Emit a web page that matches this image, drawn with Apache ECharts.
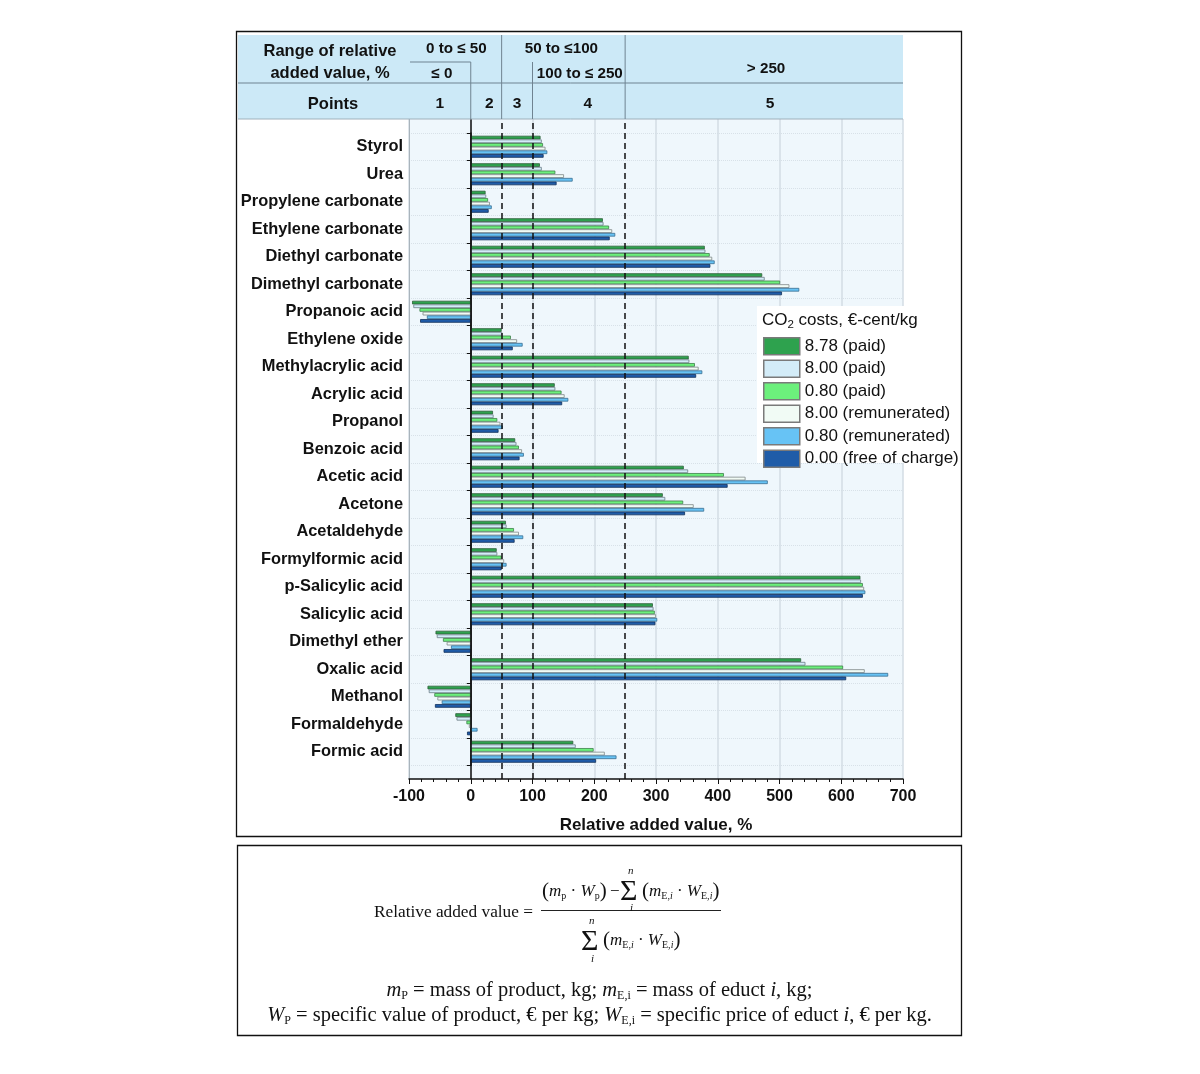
<!DOCTYPE html>
<html><head><meta charset="utf-8">
<script src="https://cdn.jsdelivr.net/npm/echarts@6/dist/echarts.min.js"></script>
<style>
html,body{margin:0;padding:0;background:#fff;}
#wrap{position:relative;width:1200px;height:1074px;overflow:hidden;}
#chart{position:absolute;left:0;top:0;width:1200px;height:1074px;}
.f{position:absolute;font-family:"Liberation Serif","Times New Roman",serif;color:#111;white-space:nowrap;line-height:1;}
.f sub{font-size:10px;vertical-align:-3px;line-height:0;}
.f .pp{font-size:21px;vertical-align:-1px;}
.big sub{font-size:12px;}
</style></head>
<body><div id="wrap"><div id="chart"></div>
<div class="f" style="left:374px;top:903px;font-size:17.3px;">Relative added value =</div>
<div class="f" style="left:541px;top:910px;width:180px;height:1px;background:#222;"></div>
<div class="f" style="left:542px;top:880px;font-size:17px;"><span class="pp">(</span><i>m</i><sub>p</sub> · <i>W</i><sub>p</sub><span class="pp">)</span>&thinsp;−</div>
<div class="f" style="left:620px;top:875px;font-size:30px;">Σ</div>
<div class="f" style="left:628px;top:865px;font-size:11px;font-style:italic;">n</div>
<div class="f" style="left:630px;top:902px;font-size:11px;font-style:italic;">i</div>
<div class="f" style="left:642px;top:880px;font-size:17px;"><span class="pp">(</span><i>m</i><sub>E,<i>i</i></sub> · <i>W</i><sub>E,<i>i</i></sub><span class="pp">)</span></div>
<div class="f" style="left:581px;top:925px;font-size:30px;">Σ</div>
<div class="f" style="left:589px;top:915px;font-size:11px;font-style:italic;">n</div>
<div class="f" style="left:591px;top:953px;font-size:11px;font-style:italic;">i</div>
<div class="f" style="left:603px;top:929px;font-size:17px;"><span class="pp">(</span><i>m</i><sub>E,<i>i</i></sub> · <i>W</i><sub>E,<i>i</i></sub><span class="pp">)</span></div>
<div class="f big" style="left:237px;top:979px;width:725px;text-align:center;font-size:20.5px;"><i>m</i><sub>P</sub> = mass of product, kg; <i>m</i><sub>E,i</sub> = mass of educt <i>i</i>, kg;</div>
<div class="f big" style="left:237px;top:1004px;width:725px;text-align:center;font-size:20.5px;"><i>W</i><sub>P</sub> = specific value of product, € per kg; <i>W</i><sub>E,i</sub> = specific price of educt <i>i</i>, € per kg.</div>
</div>
<script>
const categories = ['Styrol','Urea','Propylene carbonate','Ethylene carbonate','Diethyl carbonate','Dimethyl carbonate','Propanoic acid','Ethylene oxide','Methylacrylic acid','Acrylic acid','Propanol','Benzoic acid','Acetic acid','Acetone','Acetaldehyde','Formylformic acid','p-Salicylic acid','Salicylic acid','Dimethyl ether','Oxalic acid','Methanol','Formaldehyde','Formic acid'];
const seriesNames = ['8.78 (paid)','8.00 (paid)','0.80 (paid)','8.00 (remunerated)','0.80 (remunerated)','0.00 (free of charge)'];
const paid878 = [113,112,24,214,379,472,-95,50,353,136,36,72,345,311,57,42,631,295,-57,535,-70,-25,166];
const paid800 = [115,115,25,215,380,476,-93,51,354,137,37,74,352,315,58,43,632,296,-55,542,-68,-23,170];
const paid080 = [117,137,28,224,387,501,-83,65,363,147,43,78,410,344,70,50,635,298,-45,603,-59,-7,199];
const rem800  = [121,151,31,229,391,516,-78,75,369,152,48,83,445,361,78,54,637,300,-39,638,-54,-3,217];
const rem080  = [124,165,34,234,395,532,-71,84,375,158,52,86,481,378,85,58,639,302,-32,676,-47,11,236];
const free000 = [118,139,29,225,388,504,-82,68,365,148,45,79,416,347,71,50,635,299,-44,608,-58,-6,203];
const xTicks = {min:-100, max:700, interval:100};
const rangeLines = [50,100,250];

const FONT = '"Liberation Sans", Arial, sans-serif';
const colors = ['#2ea24e','#d3ecf8','#6cf07c','#f1fbf5','#67c3f5','#1f5ca8'];
const borders = ['#2f5f3a','#6f7f88','#3f7f4a','#808888','#3b6f90','#10305a'];
const seriesData = [paid878, paid800, paid080, rem800, rem080, free000];

const chart = echarts.init(document.getElementById('chart'));

const bars = seriesData.map((d,i)=>({
  name: seriesNames[i], type:'bar', xAxisIndex:1, yAxisIndex:1, data:d,
  barGap:'0%', barCategoryGap:'20%',
  itemStyle:{color:colors[i], borderColor:borders[i], borderWidth:0.8},
  z:2
}));

const option = {
  animation:false,
  textStyle:{fontFamily:FONT},
  grid:[
    {left:409, right:297, top:119, bottom:295, show:true, backgroundColor:'#eff7fc', borderWidth:0},
    {left:409, right:297, top:133, bottom:308.5, show:false}
  ],
  legend:{
    data: seriesNames.map(n=>({name:n, itemStyle:{borderColor:'#7a7a7a', borderWidth:1.5}})),
    orient:'vertical', left:763, top:337, itemWidth:36, itemHeight:17, itemGap:4, padding:0,
    icon:'rect', selectedMode:false, z:20,
    textStyle:{fontSize:17, color:'#111', fontFamily:FONT}
  },
  xAxis:[
    {gridIndex:0, type:'value', min:xTicks.min, max:xTicks.max, interval:xTicks.interval,
     axisLine:{show:true, onZero:false, lineStyle:{color:'#111', width:1.5}},
     axisTick:{show:true, length:5, lineStyle:{color:'#111'}},
     minorTick:{show:true, splitNumber:5, length:3, lineStyle:{color:'#111'}},
     axisLabel:{fontSize:16, fontWeight:'bold', color:'#111', margin:10, fontFamily:FONT},
     splitLine:{show:true, lineStyle:{color:'#d3dde5', width:1.5}},
     name:'Relative added value, %', nameLocation:'middle', nameGap:38,
     nameTextStyle:{fontSize:17, fontWeight:'bold', color:'#111', fontFamily:FONT}},
    {gridIndex:1, type:'value', min:xTicks.min, max:xTicks.max, interval:xTicks.interval, show:false}
  ],
  yAxis:[
    {gridIndex:0, type:'value', min:0, max:1, axisLine:{show:true, onZero:false, lineStyle:{color:'#a9b4bc'}},
     axisTick:{show:false}, axisLabel:{show:false}, splitLine:{show:false}},
    {gridIndex:1, type:'category', data:categories, inverse:true, position:'left',
     axisLine:{show:false, onZero:false}, axisTick:{show:false},
     axisLabel:{fontSize:16.4, fontWeight:'bold', color:'#111', margin:6, fontFamily:FONT},
     splitLine:{show:true, lineStyle:{color:'#d8e1e8', type:'dotted'}}},
    {gridIndex:1, type:'category', data:categories, inverse:true, position:'left',
     axisLine:{show:true, onZero:true, lineStyle:{color:'#111', width:1.5}},
     axisTick:{show:true, length:4, lineStyle:{color:'#111'}},
     axisLabel:{show:false}, splitLine:{show:false}}
  ],
  series: bars.concat([{
    type:'line', xAxisIndex:0, yAxisIndex:0, data:[], z:10, silent:true,
    markLine:{silent:true, symbol:['none','none'], label:{show:false}, animation:false,
      data: rangeLines.map(v=>({xAxis:v, lineStyle:{color:'#111', width:1.5, type:[6,4]}}))
        .concat([{xAxis:0, lineStyle:{color:'#111', width:1.5, type:'solid'}}])}
  }])
};
chart.setOption(option);

const px = v => chart.convertToPixel({xAxisIndex:0}, v);
const hdrFill = '#cce9f7', lineC = '#6f8391';
const T = (text, x, y, size) => ({type:'text', z:30, style:{text, x, y, align:'center', verticalAlign:'middle', font:'bold '+(size||16.5)+'px '+FONT, fill:'#111'}});
const L = (x1,y1,x2,y2,c,w) => ({type:'line', z:30, shape:{x1,y1,x2,y2}, style:{stroke:c||lineC, lineWidth:w||1}});
const graphic = [
  {type:'rect', z:1, shape:{x:238, y:35, width:px(700)-238, height:84}, style:{fill:hdrFill}},
  L(238,83,px(700),83),
  L(238,119,px(700),119,'#9fb0bb'),
  L(px(-100)+1,62,px(0),62),
  L(px(0),62,px(0),119),
  L(px(50),35,px(50),119),
  L(px(100),62,px(100),119),
  L(px(250),35,px(250),119),
  T('Range of relative', 330, 51),
  T('added value, %', 330, 73),
  T('0 to \u2264 50', (px(-100)+px(50))/2 + 1, 49, 15.2),
  T('\u2264 0', (px(-100)+px(0))/2 + 2, 74, 15.2),
  T('50 to \u2264100', (px(50)+px(250))/2 - 2, 49, 15.2),
  T('100 to \u2264 250', (px(100)+px(250))/2 + 1, 74, 15.2),
  T('> 250', (px(250)+px(700))/2 + 2, 69, 15.2),
  T('Points', 333, 104),
  T('1', (px(-100)+px(0))/2, 104, 15.5),
  T('2', (px(0)+px(50))/2 + 3, 104, 15.5),
  T('3', (px(50)+px(100))/2, 104, 15.5),
  T('4', (px(100)+px(250))/2 + 9, 104, 15.5),
  T('5', (px(250)+px(700))/2 + 6, 104, 15.5),
  {type:'rect', z:15, shape:{x:757, y:306, width:204, height:157}, style:{fill:'#fff'}},
  {type:'text', z:30, style:{text:'{a|CO}{b|2}{a| costs, \u20ac-cent/kg}', x:762, y:309,
    rich:{a:{fontSize:17, fontFamily:FONT, fill:'#111', lineHeight:22, verticalAlign:'middle'},
          b:{fontSize:11.5, fontFamily:FONT, fill:'#111', lineHeight:11, verticalAlign:'bottom'}}}},
  {type:'rect', z:40, shape:{x:236.5, y:31.5, width:725, height:805}, style:{fill:'none', stroke:'#111', lineWidth:1.3}},
  {type:'rect', z:40, shape:{x:237.5, y:845.5, width:724, height:190}, style:{fill:'none', stroke:'#111', lineWidth:1.3}}
];
chart.setOption({graphic});
</script>
</body></html>
